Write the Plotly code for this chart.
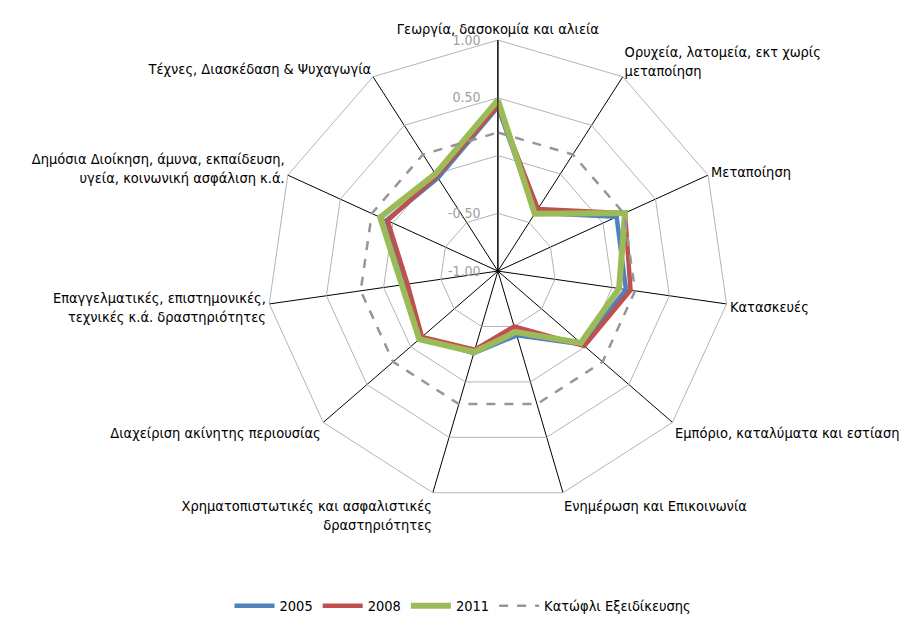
import plotly.graph_objects as go

categories = [
    "Γεωργία, δασοκομία και αλιεία",
    "Ορυχεία, λατομεία, εκτ χωρίς<br>μεταποίηση",
    "Μεταποίηση",
    "Κατασκευές",
    "Εμπόριο, καταλύματα και εστίαση",
    "Ενημέρωση και Επικοινωνία",
    "Χρηματοπιστωτικές και ασφαλιστικές<br>δραστηριότητες",
    "Διαχείριση ακίνητης περιουσίας",
    "Επαγγελματικές, επιστημονικές,<br>τεχνικές κ.ά. δραστηριότητες",
    "Δημόσια Διοίκηση, άμυνα, εκπαίδευση,<br>υγεία, κοινωνική ασφάλιση κ.ά.",
    "Τέχνες, Διασκέδαση & Ψυχαγωγία",
]

values_2005 = [0.42, -0.40, 0.13, 0.12, -0.03, -0.42, -0.26, -0.12, -0.19, 0.06, -0.04]
values_2008 = [0.43, -0.36, 0.21, 0.16, -0.01, -0.50, -0.29, -0.13, -0.21, 0.05, -0.02]
values_2011 = [0.48, -0.41, 0.21, 0.06, -0.05, -0.45, -0.27, -0.10, -0.16, 0.12, 0.00]
threshold = [0.2] * 11

radial_tickvals = [-1.0, -0.5, 0.0, 0.5, 1.0]
radial_ticktext = ["-1.00", "-0.50", "", "0.50", "1.00"]

FONT = "Liberation Sans Narrow, Arial Narrow, DejaVu Sans Condensed, Arial, sans-serif"
PAD = "\u00a0" * 3  # shifts centred radial labels to the left of the axis line


def closed(v):
    return list(v) + [v[0]]


theta = closed(categories)

fig = go.Figure()
fig.add_trace(go.Scatterpolar(r=closed(values_2005), theta=theta, mode="lines", name="2005",
                              line=dict(color="#4F81BD", width=4.5)))
fig.add_trace(go.Scatterpolar(r=closed(values_2008), theta=theta, mode="lines", name="2008",
                              line=dict(color="#C0504D", width=4.5)))
fig.add_trace(go.Scatterpolar(r=closed(values_2011), theta=theta, mode="lines", name="2011",
                              line=dict(color="#9BBB59", width=6)))
fig.add_trace(go.Scatterpolar(r=closed(threshold), theta=theta, mode="lines", name="Κατώφλι Εξειδίκευσης",
                              line=dict(color="#969696", width=2.5, dash="dash")))

fig.update_layout(
    width=910, height=617,
    margin=dict(l=0, r=0, t=0, b=0),
    paper_bgcolor="white",
    font=dict(family=FONT, size=14.5, color="black"),
    polar=dict(
        domain=dict(x=[0.2845, 0.7922], y=[0.1992, 0.948]),
        bgcolor="white",
        gridshape="linear",
        radialaxis=dict(
            range=[-1, 1], tickvals=radial_tickvals,
            ticktext=[t + PAD if t else t for t in radial_ticktext],
            angle=90, tickangle=90, side="counterclockwise",
            showline=True, linecolor="black", linewidth=1,
            gridcolor="#b4b4b4", gridwidth=1, ticks="",
            tickfont=dict(size=14, color="#a0a0a0", family=FONT),
        ),
        angularaxis=dict(
            rotation=90, direction="clockwise",
            linecolor="#b4b4b4", linewidth=1,
            gridcolor="black", gridwidth=1, ticks="",
            tickfont=dict(size=14.5, color="black", family=FONT),
        ),
    ),
    legend=dict(orientation="h", x=0.5, xanchor="center", y=0.005, yanchor="bottom",
                font=dict(size=14.5, family=FONT), itemwidth=40),
)

fig.write_html("out.html")
